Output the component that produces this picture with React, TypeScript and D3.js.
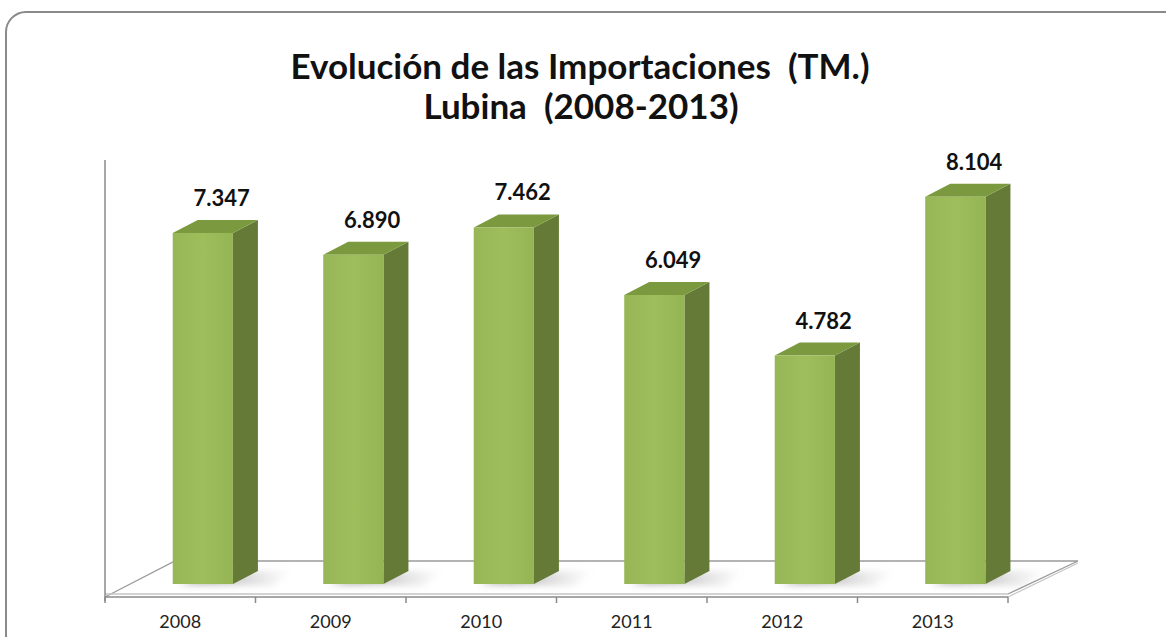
import React from "react";
import * as d3 from "d3";

const years = ["2008", "2009", "2010", "2011", "2012", "2013"];
const imports = [7347, 6890, 7462, 6049, 4782, 8104];
const valueLabels = ["7.347", "6.890", "7.462", "6.049", "4.782", "8.104"];

const W = 1166;
const H = 637;

const left = 105;
const right = 1008;
const floorFront = 597;
const barBase = 584;
const depthX = 25;
const depthY = 13;
const floorDX = 70;
const floorDY = 36;

const App = () => {
  const x = d3.scaleBand().domain(years).range([left, right]).paddingInner(0);
  const y = d3.scaleLinear().domain([0, 9000]).range([barBase, 154]);
  const bw = x.bandwidth();
  const frontW = bw * 0.4;

  const font = "Lato, 'Open Sans', sans-serif";

  return (
    <svg
      width={W}
      height={H}
      style={{ position: "absolute", left: 0, top: 0, background: "#fff" }}
    >
      <defs>
        <linearGradient id="front" x1="0" x2="1" y1="0" y2="0">
          <stop offset="0" stopColor="#97b656" />
          <stop offset="0.5" stopColor="#9ebd5b" />
          <stop offset="1" stopColor="#95b454" />
        </linearGradient>
        <linearGradient id="shadow" x1="0" x2="1" y1="0" y2="0">
          <stop offset="0" stopColor="#555" stopOpacity="0.7" />
          <stop offset="1" stopColor="#999" stopOpacity="0" />
        </linearGradient>
        <filter id="blur" x="-20%" y="-50%" width="140%" height="200%">
          <feGaussianBlur stdDeviation="3" />
        </filter>
      </defs>

      {/* outer frame */}
      <rect
        x={6}
        y={12}
        width={1220}
        height={700}
        rx={20}
        fill="#fff"
        stroke="#8a8a8a"
        strokeWidth={2}
      />

      {/* title */}
      <text
        x={580}
        y={79}
        textAnchor="middle"
        fontFamily={font}
        fontWeight="bold"
        fontSize={35}
        fill="#111"
        style={{ whiteSpace: "pre" }}
      >
        {"Evolución de las Importaciones  (TM.)"}
      </text>
      <text
        x={581}
        y={119}
        textAnchor="middle"
        fontFamily={font}
        fontWeight="bold"
        fontSize={35}
        fill="#111"
        style={{ whiteSpace: "pre" }}
      >
        {"Lubina  (2008-2013)"}
      </text>

      {/* floor */}
      <g fill="none" stroke="#9a9a9a" strokeWidth={1.3}>
        <polyline
          points={`${left},${floorFront} ${left + floorDX},${floorFront - floorDY} ${right + floorDX},${floorFront - floorDY} ${right},${floorFront - 3}`}
        />
        <line x1={left} x2={right} y1={floorFront - 3} y2={floorFront - 3} stroke="#c4c4c4" />
        <line x1={right} x2={right + floorDX} y1={floorFront} y2={floorFront - floorDY + 2} stroke="#c4c4c4" />
      </g>
      {/* axes */}
      <line x1={left} x2={left} y1={160} y2={floorFront + 4} stroke="#8a8a8a" strokeWidth={1.5} />
      <line x1={left} x2={right} y1={floorFront} y2={floorFront} stroke="#8a8a8a" strokeWidth={1.5} />
      {years.concat(["end"]).map((yr, i) => {
        const tx = i < years.length ? (x(yr) as number) : right;
        return (
          <line key={yr} x1={tx} x2={tx} y1={floorFront} y2={floorFront + 6} stroke="#8a8a8a" strokeWidth={1.5} />
        );
      })}

      {/* bars */}
      {years.map((yr, i) => {
        const fx = (x(yr) as number) + bw * 0.45;
        const top = y(imports[i]);
        const rx = fx + frontW;
        return (
          <g key={yr}>
            <polygon
              points={`${fx + 6},${barBase} ${rx + 4},${barBase - 12} ${rx + 60},${barBase - 14} ${rx + 40},${barBase + 2}`}
              fill="url(#shadow)"
              filter="url(#blur)"
            />
            <polygon
              points={`${rx},${top} ${rx + depthX},${top - depthY} ${rx + depthX},${barBase - depthY} ${rx},${barBase}`}
              fill="#647a36"
            />
            <polygon
              points={`${fx},${top} ${fx + depthX},${top - depthY} ${rx + depthX},${top - depthY} ${rx},${top}`}
              fill="#7b9a3f"
            />
            <rect x={fx} y={top} width={frontW} height={barBase - top} fill="url(#front)" />
            <text
              x={fx + 49}
              y={top - 27}
              textAnchor="middle"
              fontFamily={font}
              fontWeight="bold"
              fontSize={22}
              fill="#111"
            >
              {valueLabels[i]}
            </text>
            <text
              x={(x(yr) as number) + bw / 2}
              y={628}
              textAnchor="middle"
              fontFamily={font}
              fontSize={18}
              fill="#222"
            >
              {yr}
            </text>
          </g>
        );
      })}
    </svg>
  );
};

export default App;
